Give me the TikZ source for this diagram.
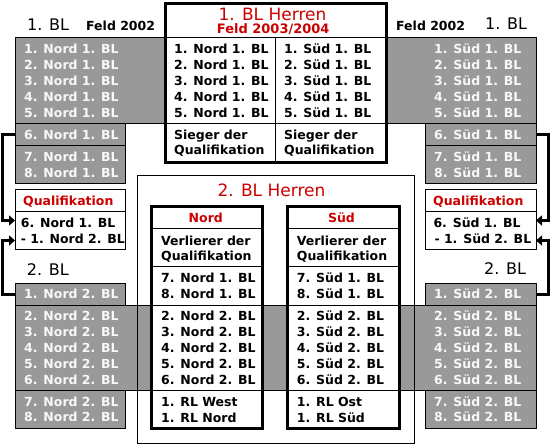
\documentclass[tikz,border=0pt]{standalone}
\usepackage{fontspec}
\setmainfont{DejaVu Sans}
\usetikzlibrary{arrows.meta}
\definecolor{bandgray}{RGB}{153,153,153}
\definecolor{hred}{RGB}{204,0,0}
\definecolor{rowwhite}{RGB}{248,248,248}
\newcommand\rowfont{\fontsize{12.5}{15}\selectfont\bfseries}
\newcommand\bigfont{\fontsize{16}{19}\selectfont}
\newcommand\titlefont{\fontsize{17}{20}\selectfont}
\newcommand\subtitlefont{\fontsize{13}{15}\selectfont\bfseries}
\begin{document}
\begin{tikzpicture}[x=1pt,y=-1pt,
  box/.style={draw=black, line width=1pt, rectangle, inner sep=0pt, outer sep=0pt, anchor=north west},
  graybox/.style={box, fill=bandgray},
  whitebox/.style={box, fill=white},
  thickbox/.style={draw=black, line width=3pt, fill=white, rectangle, inner sep=0pt, outer sep=0pt, anchor=north west},
  divider/.style={draw=black, line width=1pt},
  wrow/.style={anchor=base west, inner sep=0pt, font=\rowfont, text=rowwhite},
  brow/.style={anchor=base west, inner sep=0pt, font=\rowfont, text=black},
  redhead/.style={anchor=base, inner sep=0pt, font=\rowfont, text=hred},
  bighead/.style={anchor=base west, inner sep=0pt, font=\bigfont, text=black},
  conn/.style={draw=black, line width=3pt, -{Triangle[length=6pt,width=10pt]}}]
\useasboundingbox (0,0) rectangle (551,445);

% ---------- top band ----------
\node[graybox, minimum width=521pt, minimum height=86pt] (band1) at (15,37) {};
\node[graybox, minimum width=110pt, minimum height=22pt] (nord6box) at (15,123) {};
\node[graybox, minimum width=110pt, minimum height=38pt] (nord78box) at (15,145) {};
\node[graybox, minimum width=111pt, minimum height=22pt] (sued6box) at (425,123) {};
\node[graybox, minimum width=111pt, minimum height=38pt] (sued78box) at (425,145) {};

% ---------- center top box ----------
\node[thickbox, minimum width=221pt, minimum height=159.3pt] (bl1) at (165,3) {};
\draw[divider] (165,37) -- (386,37);
\draw[divider] (165,123) -- (386,123);
\draw[divider] (275.7,37) -- (275.7,162.3);

% ---------- lower band ----------
\node[graybox, minimum width=521pt, minimum height=85pt] (band2) at (15,305) {};
\node[graybox, minimum width=110pt, minimum height=22pt] (nord21box) at (15,283) {};
\node[graybox, minimum width=110pt, minimum height=38pt] (nord278box) at (15,390) {};
\node[graybox, minimum width=111pt, minimum height=22pt] (sued21box) at (425,283) {};
\node[graybox, minimum width=111pt, minimum height=38pt] (sued278box) at (425,390) {};

% ---------- 2. BL outer box ----------
\node[box, minimum width=277pt, minimum height=268.5pt] (outer2) at (137,175) {};

% Nord / Sued boxes
\node[thickbox, minimum width=111pt, minimum height=222.3pt] (nordbox) at (151.5,206) {};
\node[thickbox, minimum width=111.5pt, minimum height=222.3pt] (suedbox) at (287.5,206) {};
\foreach \yy in {228.5,266.7,305,390}{
  \draw[divider] (151.5,\yy) -- (262.5,\yy);
  \draw[divider] (287.5,\yy) -- (399,\yy);
}

% Qualifikation boxes
\node[whitebox, minimum width=110pt, minimum height=60pt] (qualL) at (15,189.3) {};
\node[whitebox, minimum width=111pt, minimum height=60pt] (qualR) at (425,189.3) {};
\draw[divider] (15,211.7) -- (125,211.7);
\draw[divider] (425,211.7) -- (536,211.7);

% ---------- connectors ----------
\coordinate (lx) at (2.5,0);
\coordinate (rx) at (548.3,0);
\coordinate (qL1) at (15,220.5);
\coordinate (qL2) at (15,240.5);
\coordinate (qR1) at (536,220.5);
\coordinate (qR2) at (536,240.5);
\draw[conn] (nord6box.west) -- (nord6box.west -| lx) |- (qL1);
\draw[conn] (nord21box.west) -- (nord21box.west -| lx) |- (qL2);
\draw[conn] (sued6box.east) -- (sued6box.east -| rx) |- (qR1);
\draw[conn] (sued21box.east) -- (sued21box.east -| rx) |- (qR2);

% ---------- headings ----------
\node[bighead] (hl1) at (27,30) {1. BL};
\node[brow] (fl) at (86,30) {Feld 2002};
\node[brow] (fr) at (396,30) {Feld 2002};
\node[bighead] (hr1) at (485,29.5) {1. BL};
\node[bighead] (hl2) at (26.7,275) {2. BL};
\node[bighead] (hr2) at (484,274.3) {2. BL};

\node[anchor=base, inner sep=0pt, font=\titlefont, text=hred] (t1) at (272.5,20) {1. BL Herren};
\node[anchor=base, inner sep=0pt, font=\subtitlefont, text=hred] (t1b) at (273.2,33.3) {Feld 2003/2004};
\node[anchor=base, inner sep=0pt, font=\titlefont, text=hred] (t2) at (271.5,196.7) {2. BL Herren};

% ---------- top rows ----------
\foreach \i/\y in {1/53.3,2/69.3,3/85.3,4/101.3,5/117.3}{
  \node[wrow] (tln\i) at (24,\y) {\i. Nord 1. BL};
  \node[wrow] (trs\i) at (434,\y) {\i. Süd 1. BL};
  \node[brow] (cn\i) at (174,\y) {\i. Nord 1. BL};
  \node[brow] (cs\i) at (284,\y) {\i. Süd 1. BL};
}
\node[wrow] (tln6) at (24,139.3) {6. Nord 1. BL};
\node[wrow] (tln7) at (24,161.7) {7. Nord 1. BL};
\node[wrow] (tln8) at (24,177.3) {8. Nord 1. BL};
\node[wrow] (trs6) at (434,139.3) {6. Süd 1. BL};
\node[wrow] (trs7) at (434,161.7) {7. Süd 1. BL};
\node[wrow] (trs8) at (434,177.3) {8. Süd 1. BL};
\node[brow] (cnsa) at (174,139.3) {Sieger der};
\node[brow] (cnsb) at (174,154.7) {Qualifikation};
\node[brow] (cssa) at (284,139.3) {Sieger der};
\node[brow] (cssb) at (284,154.7) {Qualifikation};

% ---------- Qualifikation ----------
\node[redhead] (qLh) at (68.3,205.5) {Qualifikation};
\node[redhead] (qRh) at (478.3,205.5) {Qualifikation};
\node[brow] (qLa) at (20.7,227.7) {6. Nord 1. BL};
\node[brow] (qLb) at (20.7,243.3) {- 1. Nord 2. BL};
\node[brow] (qRa) at (433.3,227.7) {6. Süd 1. BL};
\node[brow] (qRb) at (434.3,243.3) {- 1. Süd 2. BL};

% ---------- lower rows ----------
\node[wrow] (bln1) at (24,298.3) {1. Nord 2. BL};
\node[wrow] (brs1) at (434,298.3) {1. Süd 2. BL};
\foreach \i/\y in {2/320.6,3/336.6,4/352.6,5/368.6,6/384.6}{
  \node[wrow] (bln\i) at (24,\y) {\i. Nord 2. BL};
  \node[wrow] (brs\i) at (434,\y) {\i. Süd 2. BL};
  \node[brow] (nn\i) at (161,\y) {\i. Nord 2. BL};
  \node[brow] (ss\i) at (296.7,\y) {\i. Süd 2. BL};
}
\node[wrow] (bln7) at (24,406) {7. Nord 2. BL};
\node[wrow] (bln8) at (24,421.7) {8. Nord 2. BL};
\node[wrow] (brs7) at (434,406) {7. Süd 2. BL};
\node[wrow] (brs8) at (434,421.7) {8. Süd 2. BL};

% ---------- Nord / Sued contents ----------
\node[redhead] (nh) at (205.8,222.3) {Nord};
\node[redhead] (sh) at (341.5,222.3) {Süd};
\node[brow] (nv1) at (161,245) {Verlierer der};
\node[brow] (nv2) at (161,260.5) {Qualifikation};
\node[brow] (sv1) at (296.7,245) {Verlierer der};
\node[brow] (sv2) at (296.7,260.5) {Qualifikation};
\node[brow] (n7) at (161,282.3) {7. Nord 1. BL};
\node[brow] (n8) at (161,298.3) {8. Nord 1. BL};
\node[brow] (s7) at (296.7,282.3) {7. Süd 1. BL};
\node[brow] (s8) at (296.7,298.3) {8. Süd 1. BL};
\node[brow] (nr1) at (161,406) {1. RL West};
\node[brow] (nr2) at (161,422.3) {1. RL Nord};
\node[brow] (sr1) at (296.7,406) {1. RL Ost};
\node[brow] (sr2) at (296.7,422.3) {1. RL Süd};
\end{tikzpicture}
\end{document}
